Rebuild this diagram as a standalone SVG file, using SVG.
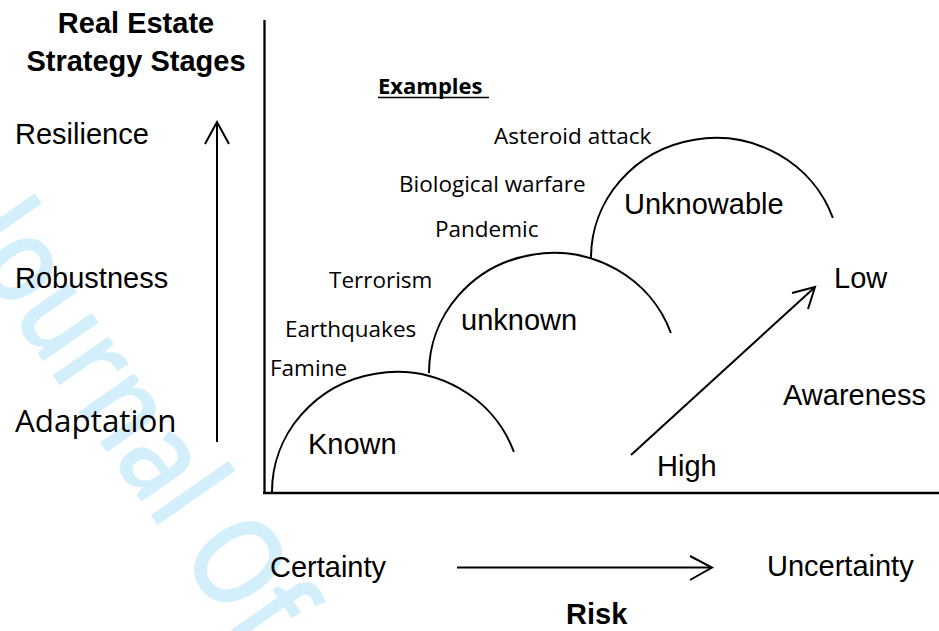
<svg xmlns="http://www.w3.org/2000/svg" width="939" height="631" viewBox="0 0 939 631">
  <style>
    .sans { font-family: "Liberation Sans", Arial, sans-serif; font-size: 29px; fill: #000; }
    .bold { font-weight: bold; }
    .cal { font-family: "Open Sans", "Liberation Sans", sans-serif; font-size: 22.5px; fill: #000; }
    .line { stroke: #000; stroke-width: 2; fill: none; }
    .axis { stroke: #000; stroke-width: 2.3; fill: none; }
    .arc { stroke: #000; stroke-width: 2; fill: none; }
    .wm { font-family: "Open Sans", "Liberation Sans", sans-serif; font-size: 125px; font-weight: 600; fill: #d2effb; }
  </style>

  <rect width="939" height="631" fill="#fff"/>

  <!-- faint background watermark -->
  <text class="wm" transform="translate(-44,237) rotate(55) scale(0.83,1)">Journal Of</text>

  <!-- axes -->
  <g id="axes">
    <line class="axis" x1="264.5" y1="20" x2="264.5" y2="494"/>
    <line class="axis" x1="263" y1="493" x2="939" y2="493"/>
  </g>

  <!-- left column: stages -->
  <g id="title">
    <text class="sans bold" x="136" y="33" text-anchor="middle">Real Estate</text>
    <text class="sans bold" x="136" y="71" text-anchor="middle">Strategy Stages</text>
  </g>
  <g id="resilience"><text class="sans" x="15" y="144">Resilience</text></g>
  <g id="robustness"><text class="sans" x="15" y="288">Robustness</text></g>
  <g id="adaptation"><text class="cal" x="15" y="432" style="font-size:31.4px">Adaptation</text></g>

  <!-- examples -->
  <g id="examples">
    <text class="cal" x="378" y="94" style="font-weight:bold;font-size:22px">Examples</text>
    <line x1="378" y1="97.5" x2="489" y2="97.5" stroke="#000" stroke-width="1.6"/>
    <text class="cal" x="494" y="144">Asteroid attack</text>
    <text class="cal" x="399" y="192">Biological warfare</text>
    <text class="cal" x="435" y="237">Pandemic</text>
    <text class="cal" x="329" y="288">Terrorism</text>
    <text class="cal" x="285" y="337">Earthquakes</text>
    <text class="cal" x="270" y="376">Famine</text>
  </g>

  <!-- knowledge domes -->
  <g id="known">
    <path class="arc" d="M272,492 A124.5,120 0 0 1 513.9,452"/>
    <text class="sans" x="308" y="454">Known</text>
  </g>
  <g id="unknown">
    <path class="arc" d="M429,373 A124.5,120 0 0 1 670.9,333"/>
    <text class="sans" x="461" y="330">unknown</text>
  </g>
  <g id="unknowable">
    <path class="arc" d="M591,258 A124.5,120 0 0 1 832.9,218"/>
    <text class="sans" x="624" y="214">Unknowable</text>
  </g>

  <!-- awareness scale -->
  <g id="low"><text class="sans" x="834" y="288">Low</text></g>
  <g id="awareness"><text class="sans" x="783" y="405">Awareness</text></g>
  <g id="high"><text class="sans" x="657" y="476">High</text></g>

  <!-- risk scale -->
  <g id="certainty"><text class="sans" x="270" y="577">Certainty</text></g>
  <g id="uncertainty"><text class="sans" x="767" y="576">Uncertainty</text></g>
  <g id="risk"><text class="sans bold" x="566" y="624">Risk</text></g>

  <!-- connectors: arrows with open chevron heads -->
  <g id="connectors">
    <line class="line" x1="217" y1="442" x2="217" y2="123"/>
    <polyline class="line" points="205,144 217,122 229,144"/>

    <line class="line" x1="457" y1="567.5" x2="711" y2="567.5"/>
    <polyline class="line" points="690,556 712,567.5 690,580"/>

    <line class="line" x1="631" y1="455" x2="814" y2="288"/>
    <polyline class="line" points="792,293 815,287 808,309"/>
  </g>
</svg>
